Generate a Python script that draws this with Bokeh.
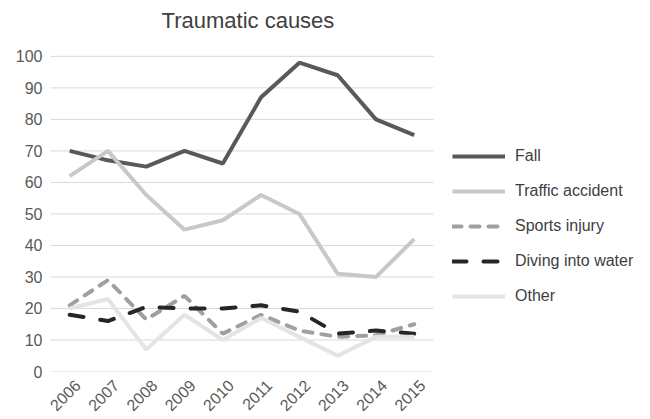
from bokeh.plotting import figure
from bokeh.models import Range1d, FixedTicker, Legend, LegendItem, Label, LinearAxis
from bokeh.embed import file_html
from bokeh.resources import INLINE
import math

years = ["2006", "2007", "2008", "2009", "2010", "2011", "2012", "2013", "2014", "2015"]
fall = [70, 67, 65, 70, 66, 87, 98, 94, 80, 75]
traffic = [62, 70, 56, 45, 48, 56, 50, 31, 30, 42]
sports = [21, 29, 16.5, 24, 12, 18, 13, 11, 11.5, 15]
diving = [18, 16, 20.5, 20, 20, 21, 19, 12, 13, 12]
other = [20, 23, 7, 18, 10, 17, 11, 5, 11, 11]
y_ticks = list(range(0, 101, 10))
title_text = "Traumatic causes"

FONT = "Liberation Sans"
xs = list(range(len(years)))

X0, X1 = -0.5, 15.17
# plot area spans the chart part (x -0.5..9.5, y 0..100) plus room for the legend and title
p = figure(width=650, height=419, x_range=Range1d(X0, X1), y_range=Range1d(0, 117.72),
           output_backend="svg", toolbar_location=None,
           min_border_left=50, min_border_right=0, min_border_top=0, min_border_bottom=47)
p.outline_line_color = None
p.background_fill_color = "white"
p.border_fill_color = "white"

p.add_layout(Label(x=4.657, y=111.4, text=title_text, text_align="center",
                   text_baseline="middle", text_font=FONT, text_font_size="22px",
                   text_color="#404040"))

p.xgrid.grid_line_color = None
p.ygrid.grid_line_color = None
p.segment(x0=[-0.5] * len(y_ticks), x1=[len(years) - 0.5] * len(y_ticks),
          y0=y_ticks, y1=y_ticks, line_color="#d9d9d9", line_width=1)

p.yaxis.ticker = FixedTicker(ticks=y_ticks)
p.xaxis[0].visible = False

# year labels: same scale, shifted slightly right like the original's rotated labels
shift = 8 / 38.3
p.extra_x_ranges = {"labels": Range1d(X0 - shift, X1 - shift)}
xax = LinearAxis(x_range_name="labels", ticker=FixedTicker(ticks=xs),
                 major_label_overrides={i: y for i, y in enumerate(years)})
p.add_layout(xax, "below")

for ax in (xax, p.yaxis[0]):
    ax.axis_line_color = None
    ax.major_tick_line_color = None
    ax.minor_tick_line_color = None
    ax.major_tick_out = 0
    ax.major_tick_in = 0
    ax.minor_tick_out = 0
    ax.major_label_text_font = FONT
    ax.major_label_text_font_size = "16px"
    ax.major_label_text_color = "#595959"
p.yaxis.major_label_standoff = 8
xax.major_label_orientation = math.pi / 4
xax.major_label_standoff = 11

r_fall = p.line(xs, fall, line_color="#595959", line_width=4)
r_traffic = p.line(xs, traffic, line_color="#c8c8c8", line_width=4)
r_sports = p.line(xs, sports, line_color="#a0a0a0", line_width=4,
                  line_dash="9 9", line_cap="round")
r_diving = p.line(xs, diving, line_color="#262626", line_width=4,
                  line_dash="14 17", line_cap="round")
r_other = p.line(xs, other, line_color="#e4e4e4", line_width=4)

legend = Legend(items=[
    LegendItem(label="Fall", renderers=[r_fall]),
    LegendItem(label="Traffic accident", renderers=[r_traffic]),
    LegendItem(label="Sports injury", renderers=[r_sports]),
    LegendItem(label="Diving into water", renderers=[r_diving]),
    LegendItem(label="Other", renderers=[r_other]),
], location=(402, 65))
legend.border_line_color = None
legend.background_fill_alpha = 0
legend.padding = 0
legend.margin = 0
legend.spacing = 15
legend.glyph_width = 53
legend.glyph_height = 20
legend.label_height = 20
legend.label_standoff = 10
legend.label_text_font = FONT
legend.label_text_font_size = "16px"
legend.label_text_color = "#404040"
p.add_layout(legend, "center")

open("out.html", "w").write(file_html(p, INLINE))
